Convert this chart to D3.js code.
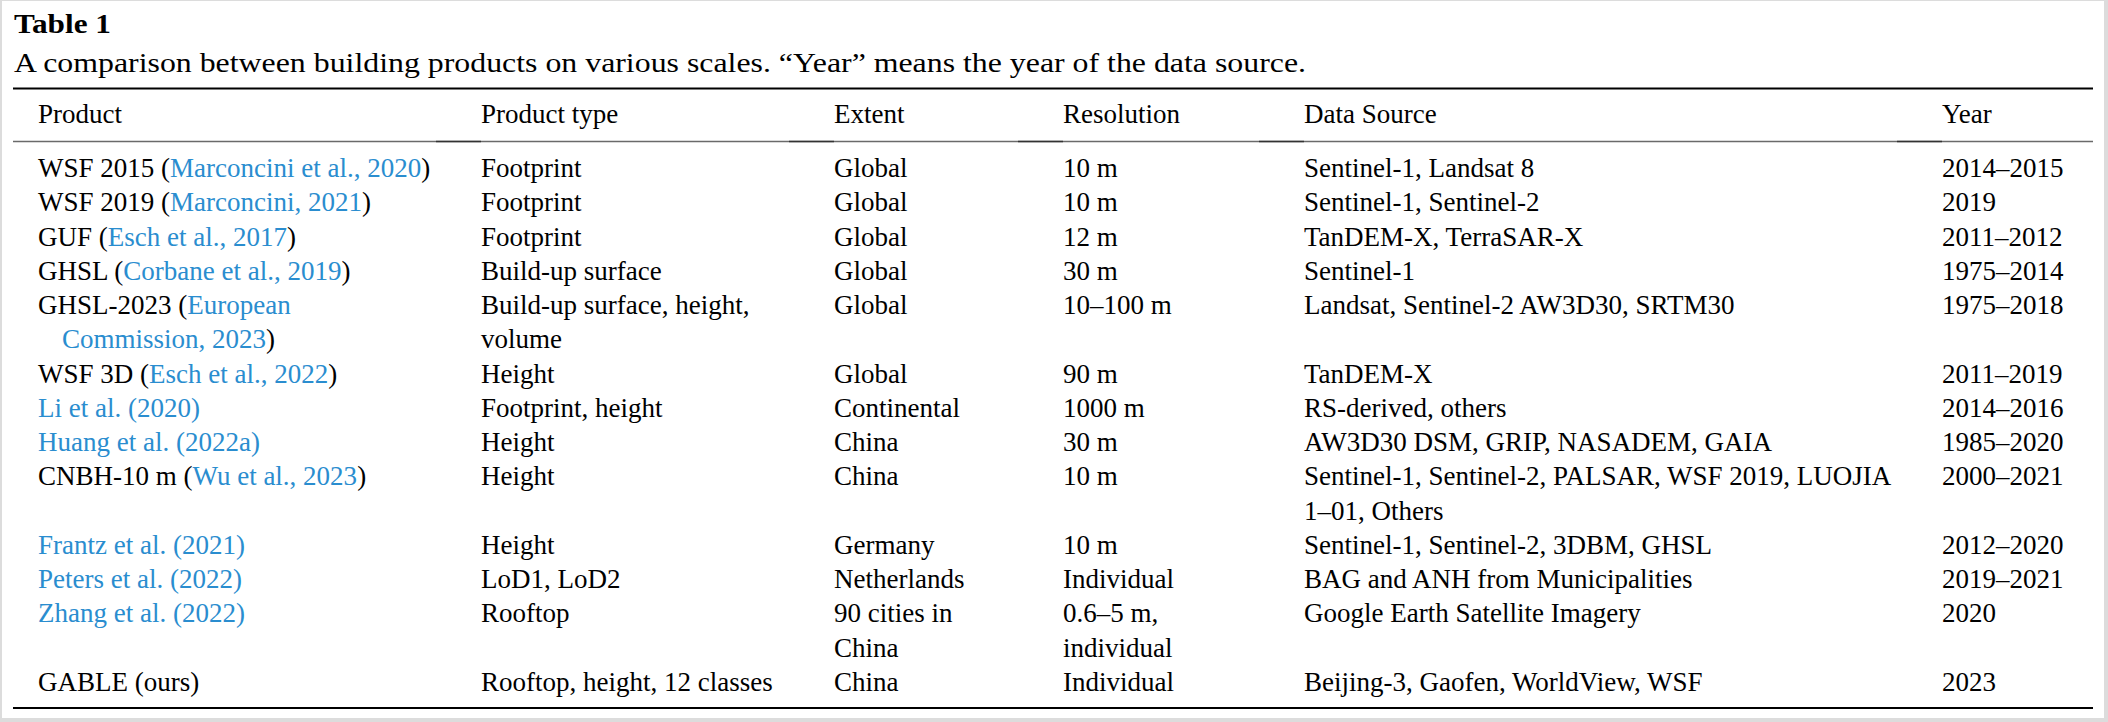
<!DOCTYPE html>
<html>
<head>
<meta charset="utf-8">
<script src="https://cdn.jsdelivr.net/npm/d3@7"></script>
<style>
  body { margin: 0; background: #fff; }
  svg text { font-family: "Liberation Serif", "Times New Roman", serif; font-size: 27px; fill: #000; }
</style>
</head>
<body>
<svg width="2108" height="722"></svg>
<script>
// Table content. [ ... ] marks cited (blue link) text, \n marks a line break
const columns = ["Product", "Product type", "Extent", "Resolution", "Data Source", "Year"];

const products = [
    "WSF 2015 ([Marconcini et al., 2020])",
    "WSF 2019 ([Marconcini, 2021])",
    "GUF ([Esch et al., 2017])",
    "GHSL ([Corbane et al., 2019])",
    "GHSL-2023 ([European\nCommission, 2023])",
    "WSF 3D ([Esch et al., 2022])",
    "[Li et al. (2020)]",
    "[Huang et al. (2022a)]",
    "CNBH-10 m ([Wu et al., 2023])",
    "[Frantz et al. (2021)]",
    "[Peters et al. (2022)]",
    "[Zhang et al. (2022)]",
    "GABLE (ours)"
];

const productTypes = [
    "Footprint", "Footprint", "Footprint", "Build-up surface",
    "Build-up surface, height,\nvolume", "Height", "Footprint, height", "Height",
    "Height", "Height", "LoD1, LoD2", "Rooftop", "Rooftop, height, 12 classes"
];

const extents = [
    "Global", "Global", "Global", "Global", "Global", "Global", "Continental",
    "China", "China", "Germany", "Netherlands", "90 cities in\nChina", "China"
];

const resolutions = [
    "10 m", "10 m", "12 m", "30 m", "10–100 m", "90 m", "1000 m", "30 m",
    "10 m", "10 m", "Individual", "0.6–5 m,\nindividual", "Individual"
];

const dataSources = [
    "Sentinel-1, Landsat 8",
    "Sentinel-1, Sentinel-2",
    "TanDEM-X, TerraSAR-X",
    "Sentinel-1",
    "Landsat, Sentinel-2 AW3D30, SRTM30",
    "TanDEM-X",
    "RS-derived, others",
    "AW3D30 DSM, GRIP, NASADEM, GAIA",
    "Sentinel-1, Sentinel-2, PALSAR, WSF 2019, LUOJIA\n1–01, Others",
    "Sentinel-1, Sentinel-2, 3DBM, GHSL",
    "BAG and ANH from Municipalities",
    "Google Earth Satellite Imagery",
    "Beijing-3, Gaofen, WorldView, WSF"
];

const years = [
    "2014–2015", "2019", "2011–2012", "1975–2014", "1975–2018", "2011–2019",
    "2014–2016", "1985–2020", "2000–2021", "2012–2020", "2019–2021", "2020", "2023"
];

const title = "Table 1";
const caption = "A comparison between building products on various scales. \u201CYear\u201D means the year of the data source.";

const linkColor = "#2a8dcf";

const svg = d3.select("svg");
const width = +svg.attr("width");
const height = +svg.attr("height");

// page frame
svg.append("rect").attr("width", width).attr("height", height).attr("fill", "#dcdcdc");
svg.append("rect").attr("x", 2).attr("y", 1).attr("width", width - 6).attr("height", height - 5).attr("fill", "#fff");

// build rows: cells split into lines, each line split into plain / link segments
const cols = [products, productTypes, extents, resolutions, dataSources, years];
let lineStart = 0;
const rows = products.map((p, i) => {
    const cells = cols.map(c => c[i].split("\n"));
    const row = { start: lineStart, cells };
    lineStart += d3.max(cells, c => c.length);
    return row;
});
const totalLines = lineStart;

function segments(line, state) {
    const out = [];
    let buf = "";
    for (const ch of line) {
        if (ch === "[" || ch === "]") {
            if (buf) out.push({ text: buf, link: state.link });
            buf = "";
            state.link = ch === "[";
        } else buf += ch;
    }
    if (buf) out.push({ text: buf, link: state.link });
    return out;
}

const x = d3.scaleOrdinal().domain(columns).range([38, 481, 834, 1063, 1304, 1942]);
const y = d3.scaleLinear().domain([0, totalLines - 1]).range([177, 691]);

// title + caption (the original caption font runs wider than the table font)
svg.append("text").attr("x", 14).attr("y", 33).attr("font-weight", "bold")
    .attr("textLength", 97).attr("lengthAdjust", "spacingAndGlyphs").text(title);
svg.append("text").attr("x", 14).attr("y", 72)
    .attr("textLength", 1292).attr("lengthAdjust", "spacingAndGlyphs").text(caption);

// rules
const left = 13, right = 2093;
svg.append("line").attr("x1", left).attr("x2", right).attr("y1", 88.5).attr("y2", 88.5)
    .attr("stroke", "#000").attr("stroke-width", 2.2);
svg.append("line").attr("x1", left).attr("x2", right).attr("y1", 141.5).attr("y2", 141.5)
    .attr("stroke", "#6a6a6a").attr("stroke-width", 1.6);
svg.append("g").selectAll("line")
    .data(columns.slice(1))
    .join("line")
    .attr("x1", d => x(d) - 45).attr("x2", d => x(d))
    .attr("y1", 141.5).attr("y2", 141.5)
    .attr("stroke", "#333").attr("stroke-width", 1.6);
svg.append("line").attr("x1", left).attr("x2", right).attr("y1", 708).attr("y2", 708)
    .attr("stroke", "#000").attr("stroke-width", 2.2);

// header
svg.append("g").selectAll("text")
    .data(columns)
    .join("text")
    .attr("x", d => x(d))
    .attr("y", 123)
    .text(d => d);

// body
const body = svg.append("g");
rows.forEach(row => {
    row.cells.forEach((lines, ci) => {
        const state = { link: false };
        lines.forEach((line, li) => {
            const t = body.append("text")
                .attr("x", x(columns[ci]) + (ci === 0 && li > 0 ? 24 : 0))
                .attr("y", y(row.start + li));
            t.selectAll("tspan")
                .data(segments(line, state))
                .join("tspan")
                .attr("fill", d => d.link ? linkColor : "#000")
                .text(d => d.text);
        });
    });
});
</script>
</body>
</html>
